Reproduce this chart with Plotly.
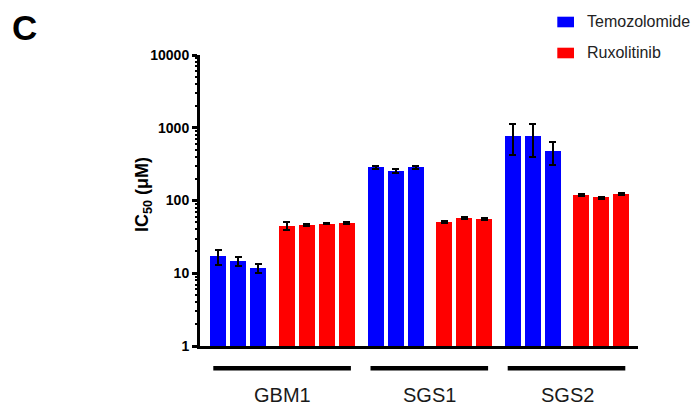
import plotly.graph_objects as go

# ---- data ----
groups = ["GBM1", "SGS1", "SGS2"]
drugs = ["Temozolomide", "Ruxolitinib"]
colors = {"Temozolomide": "#0000FF", "Ruxolitinib": "#FF0000"}

tmz_values = {"GBM1": [17.1, 14.7, 11.7], "SGS1": [285, 253, 285], "SGS2": [769, 761, 473]}
tmz_errors = {"GBM1": [4.0, 2.2, 1.7], "SGS1": [16, 17, 12], "SGS2": [350, 360, 165]}
rux_values = {"GBM1": [45.3, 46.7, 48.2, 48.7], "SGS1": [50.2, 57.5, 56.5], "SGS2": [118, 110, 123]}
rux_errors = {"GBM1": [6.0, 1.5, 1.3, 1.2], "SGS1": [1.5, 1.8, 1.8], "SGS2": [3.5, 3.5, 3.0]}

y_tickvals = [1, 10, 100, 1000, 10000]
y_title = "IC<sub>50</sub> (μM)"
panel_label = "C"

# ---- layout geometry ----
W, H = 695, 408
ML, MR, MT, MB = 200, 57, 55, 62
PW, PH = W - ML - MR, H - MT - MB
BLOCK_GAP = 0.43  # extra slot gap between consecutive blocks of bars


def px_x(p):
    return (p - ML) / PW


def px_y(p):
    return (H - MB - p) / PH


# compute bar positions block by block
data = {"Temozolomide": (tmz_values, tmz_errors), "Ruxolitinib": (rux_values, rux_errors)}
pos = {d: {"x": [], "y": [], "e": []} for d in drugs}
group_span = {}
cur = 0.0
for g in groups:
    start = None
    for d in drugs:
        vals, errs = data[d]
        for v, e in zip(vals[g], errs[g]):
            if start is None:
                start = cur
            pos[d]["x"].append(cur)
            pos[d]["y"].append(v)
            pos[d]["e"].append(e)
            last = cur
            cur += 1
        cur += BLOCK_GAP
    group_span[g] = (start, last)

fig = go.Figure()
for d in drugs:
    fig.add_trace(go.Bar(
        name=d, x=pos[d]["x"], y=pos[d]["y"], width=0.8,
        marker=dict(color=colors[d], line=dict(width=0)),
        error_y=dict(type="data", array=pos[d]["e"], visible=True,
                     color="black", thickness=2, width=3.5),
        showlegend=False,
    ))

font_family = "Liberation Sans, Arial, sans-serif"
shapes = []
annotations = []

# group underline bars and labels
for g in groups:
    a, b = group_span[g]
    shapes.append(dict(type="line", xref="x", yref="paper", x0=a - 0.25, x1=b + 0.2,
                       y0=px_y(368.3), y1=px_y(368.3), line=dict(color="black", width=4.5)))
    annotations.append(dict(text=g, xref="x", yref="paper", x=(a + b) / 2, y=px_y(395),
                            xanchor="center", yanchor="middle", showarrow=False,
                            font=dict(family=font_family, size=20, color="#1a1a1a")))

# manual legend
legend_rows = [(16.7, 27.3, 21.7), (47.7, 58.3, 52.7)]
for d, (y0, y1, yc) in zip(drugs, legend_rows):
    shapes.append(dict(type="rect", xref="paper", yref="paper", x0=px_x(557.3), x1=px_x(574),
                       y0=px_y(y1), y1=px_y(y0), fillcolor=colors[d], line=dict(width=0)))
    annotations.append(dict(text=d, xref="paper", yref="paper", x=px_x(585), y=px_y(yc),
                            xanchor="left", yanchor="middle", showarrow=False,
                            font=dict(family=font_family, size=16, color="#222222")))

# y-axis title
annotations.append(dict(text=y_title, xref="paper", yref="paper", x=px_x(143), y=px_y(195),
                        xanchor="center", yanchor="middle", textangle=-90, showarrow=False,
                        font=dict(family=font_family, size=18, color="black", weight="bold")))
# panel label
annotations.append(dict(text=panel_label, xref="paper", yref="paper", x=px_x(24), y=px_y(27.5),
                        xanchor="center", yanchor="middle", showarrow=False,
                        font=dict(family=font_family, size=35, color="black", weight="bold")))

fig.update_layout(
    width=W, height=H,
    margin=dict(l=ML, r=MR, t=MT, b=MB, pad=0),
    paper_bgcolor="white", plot_bgcolor="white",
    bargap=0, barmode="overlay",
    shapes=shapes, annotations=annotations,
    font=dict(family=font_family),
)
fig.update_xaxes(range=[-0.915, cur - BLOCK_GAP - 1 + 0.835], showline=True, linecolor="black",
                 linewidth=2.5, showticklabels=False, ticks="", showgrid=False, zeroline=False)
fig.update_yaxes(type="log", range=[0, 4], showline=True, linecolor="black", linewidth=3,
                 ticks="outside", ticklen=5, tickwidth=2.5, tickcolor="black",
                 tickmode="array", tickvals=y_tickvals, ticktext=[str(v) for v in y_tickvals],
                 tickfont=dict(family=font_family, size=14, color="black", weight="bold"),
                 minor=dict(ticks="outside", ticklen=2.5, tickwidth=1.5, tickcolor="black", dtick="D1"),
                 showgrid=False, zeroline=False)

fig.write_html("out.html")
